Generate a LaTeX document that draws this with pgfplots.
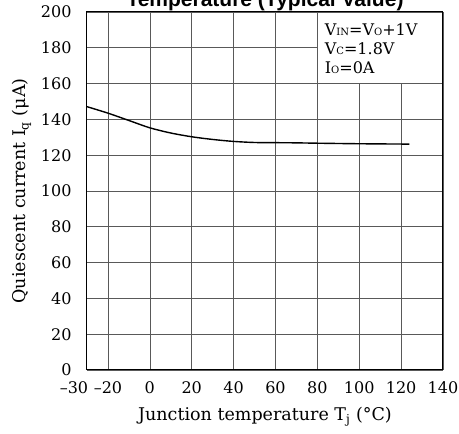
\documentclass[border=0pt]{standalone}
\usepackage{fontspec}
\setmainfont{DejaVu Serif}
\newfontfamily\titlefont{Liberation Sans}
\usepackage{pgfplots}
\pgfplotsset{compat=1.18}
\newcommand{\sm}[1]{{\fontsize{10}{12}\selectfont #1}}
\begin{document}
\begin{tikzpicture}
\begin{axis}[
  name=ax,
  at={(0,0)}, anchor=south west,
  scale only axis,
  width=356pt, height=358pt,
  xmin=-30, xmax=140, ymin=0, ymax=200,
  xtick={-20,0,20,40,60,80,100,120,140},
  xticklabels={–20,0,20,40,60,80,100,120,140},
  extra x ticks={-30},
  extra x tick labels={–30},
  extra x tick style={xticklabel style={xshift=-13pt}, grid=none},
  ytick={0,20,...,200},
  grid=major,
  major grid style={gray!70!black, line width=0.6pt},
  major tick length=0pt,
  axis line style={black, line width=1pt},
  tick label style={font=\fontsize{16}{18}\selectfont},
  /pgf/number format/assume math mode=true,
  xticklabel style={yshift=-8pt},
  yticklabel style={xshift=-12pt},
  xlabel={Junction temperature T\textsubscript{j} (°C)},
  ylabel={Quiescent current I\textsubscript{q} (μA)},
  label style={font=\fontsize{17.5}{20}\selectfont},
  xlabel style={yshift=-7pt},
  ylabel style={yshift=3pt},
]
\fill[white, draw=gray!70!black, line width=0.6pt] (axis cs:80,160) rectangle (axis cs:140,200);
\draw[black, line width=1pt] (axis cs:140,160) -- (axis cs:140,200) -- (axis cs:80,200);
\node[anchor=base west, inner sep=0pt, font=\fontsize{16}{18}\selectfont] at (axis cs:83.5,187) {V\sm{IN}=V\sm{O}+1V};
\node[anchor=base west, inner sep=0pt, font=\fontsize{16}{18}\selectfont] at (axis cs:83.5,176.4) {V\sm{C}=1.8V};
\node[anchor=base west, inner sep=0pt, font=\fontsize{16}{18}\selectfont] at (axis cs:83.5,165.8) {I\sm{O}=0A};
\addplot[black, line width=1.4pt, smooth] coordinates {
(-30,147.1) (-20,143.5) (-10,139.4) (0,135.3) (10,132.4) (20,130.3) (30,128.8)
(40,127.7) (50,127.1) (60,127.0) (70,126.9) (80,126.7) (100,126.4) (124,126.2)};
\end{axis}
\node[anchor=base, font=\titlefont\bfseries\fontsize{21}{24}\selectfont] at (178pt,363pt) {Temperature (Typical Value)};
\pgfresetboundingbox
\path[use as bounding box] (-87pt,-64pt) rectangle (372pt,370pt);
\end{tikzpicture}
\end{document}
